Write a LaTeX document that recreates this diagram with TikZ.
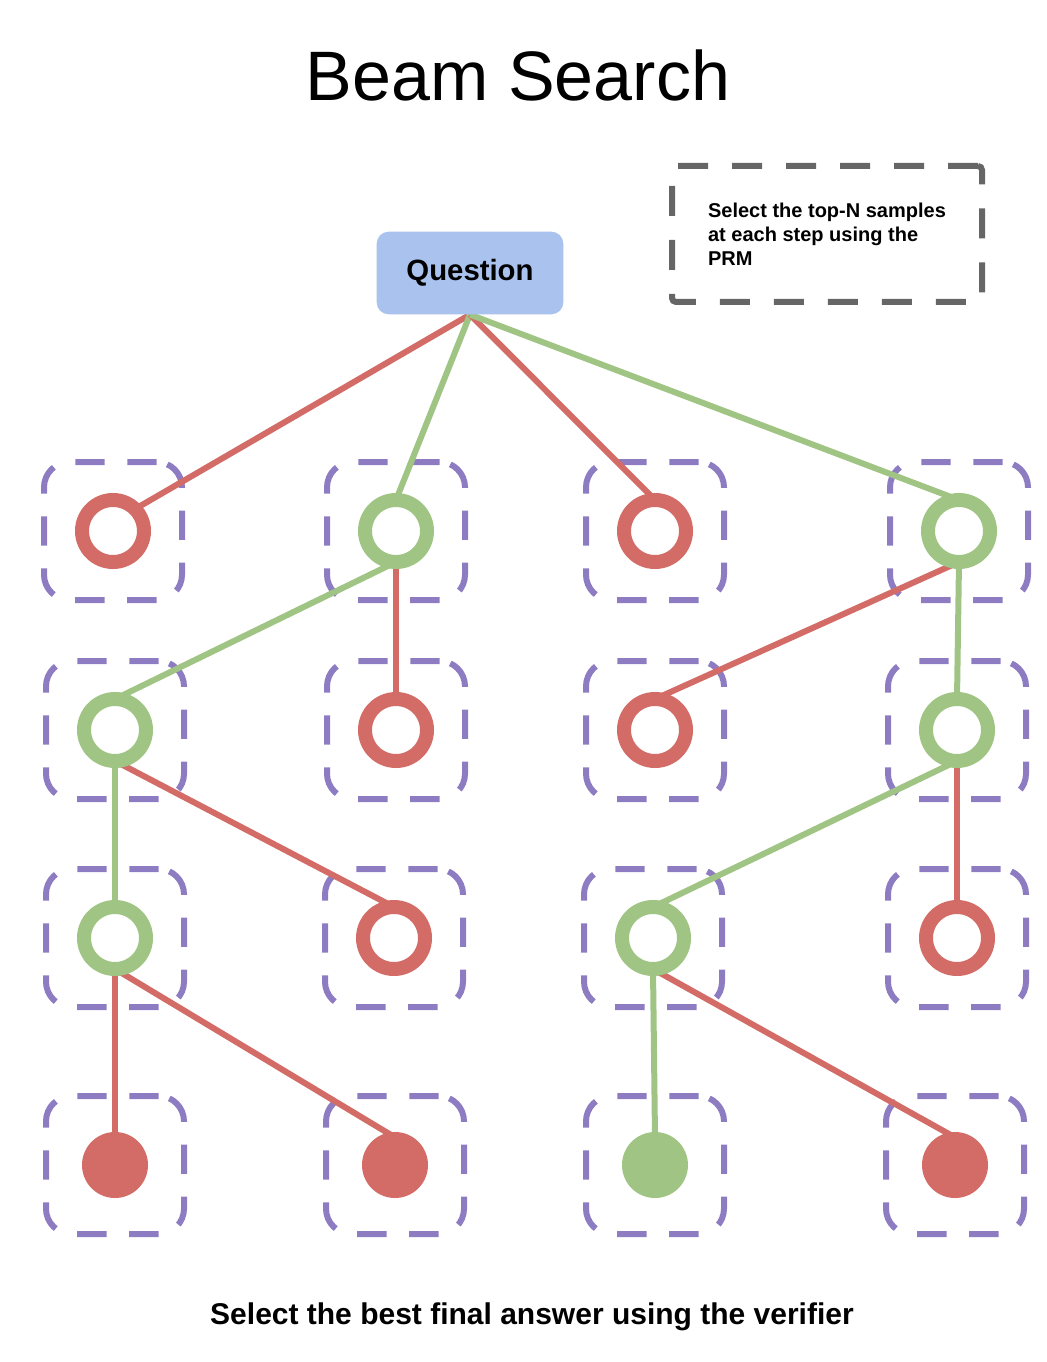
\documentclass[tikz,border=0pt]{standalone}
\usepackage{fontspec}
\setmainfont{Liberation Sans}
\definecolor{prmred}{RGB}{211,107,103}
\definecolor{prmgreen}{RGB}{159,196,131}
\definecolor{slotpurple}{RGB}{142,124,195}
\definecolor{qblue}{RGB}{169,194,238}
\definecolor{notegray}{RGB}{102,102,102}
\pgfdeclarelayer{slots}
\pgfdeclarelayer{links}
\pgfsetlayers{slots,links,main}

\begin{document}
\begin{tikzpicture}[x=0.75pt,y=-0.75pt,
	slot/.style={draw=slotpurple,line width=4.5pt,rounded corners=19pt,dash pattern=on 22pt off 17pt,minimum size=103.5pt,inner sep=0pt},
	ring/.style={circle,draw=#1,line width=10.5pt,fill=white,minimum size=46.5pt,inner sep=0pt,outer sep=0pt},
	leaf/.style={circle,fill=#1,minimum size=49.5pt,inner sep=0pt,outer sep=-4pt},
	link/.style={line width=4.5pt,draw=#1}]
			\useasboundingbox (0,0) rectangle (1046,1362);
			\node (title) at (518,75) {\fontsize{52.5}{60}\selectfont Beam Search};
			\node[fill=qblue,rounded corners=9pt,minimum width=140pt,minimum height=62pt] (q) at (470,273) {\fontsize{22}{26}\selectfont\bfseries Question};
			\node[draw=notegray,line width=4.5pt,dash pattern=on 22.5pt off 18pt,rounded corners=3pt,minimum width=232.5pt,minimum height=102pt,align=left,font=\fontsize{15}{18}\selectfont\bfseries] (note) at (827,234) {Select the top-N samples\\at each step using the\\PRM};
			\node (verdict) at (532,1317) {\fontsize{22.5}{27}\selectfont\bfseries Select the best final answer using the verifier};
			
			\begin{pgfonlayer}{slots}
				\foreach \n/\x/\y in {11/113/531,12/396/531,13/655/531,14/959/531,21/115/730,22/396/730,23/655/730,24/957/730,31/115/938,32/394/938,33/653/938,34/957/938,41/115/1165,42/395/1165,43/655/1165,44/955/1165}
				\node[slot] (s\n) at (\x,\y) {};
			\end{pgfonlayer}
			
			\foreach \n/\c in {11/prmred,12/prmgreen,13/prmred,14/prmgreen,21/prmgreen,22/prmred,23/prmred,24/prmgreen,31/prmgreen,32/prmred,33/prmgreen,34/prmred}
			\node[ring=\c] (c\n) at (s\n) {};
			\foreach \n/\c in {41/prmred,42/prmred,43/prmgreen,44/prmred}
			\node[leaf=\c] (c\n) at (s\n) {};
			
			\begin{pgfonlayer}{links}
				\foreach \a/\b/\c/\d in {q/11/prmred/north east,q/12/prmgreen/north,q/13/prmred/north,q/14/prmgreen/north,c12/21/prmgreen/north,c12/22/prmred/north,c14/23/prmred/north,c14/24/prmgreen/north,c21/31/prmgreen/north,c21/32/prmred/north,c24/33/prmgreen/north,c24/34/prmred/north,c31/41/prmred/north,c31/42/prmred/north,c33/43/prmgreen/north,c33/44/prmred/north}
				\draw[link=\c] (\a.south) -- (c\b.\d);
			\end{pgfonlayer}
		\end{tikzpicture}
\end{document}
